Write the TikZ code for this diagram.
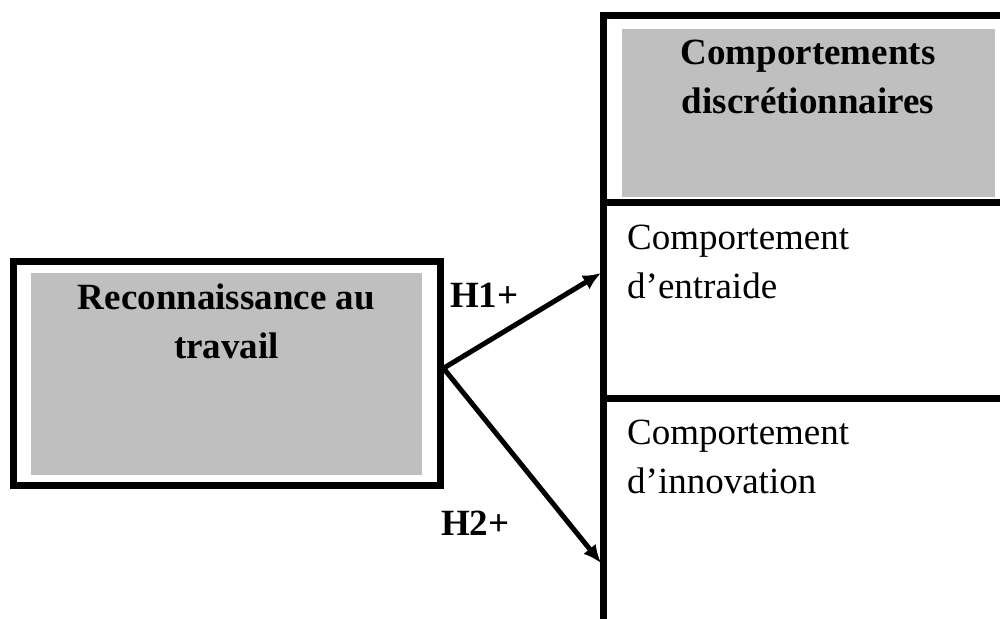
\documentclass[tikz,border=0pt]{standalone}
\usepackage{fontspec}
\setmainfont{Liberation Serif}
\usetikzlibrary{arrows.meta,positioning}
\definecolor{boxgrey}{RGB}{191,191,191}

\begin{document}
\begin{tikzpicture}[x=1pt,y=-1pt]

      \tikzstyle{frame}=[rectangle,draw=black,line width=7pt,
        inner sep=0pt]
      \tikzstyle{greybox}=[rectangle,fill=boxgrey,inner sep=0pt]
      \tikzstyle{title}=[font=\fontsize{37}{49}\selectfont\bfseries,
        align=center,inner sep=0pt]
      \tikzstyle{item}=[font=\fontsize{37}{49}\selectfont,
        align=left,inner sep=0pt,anchor=base west]
      \tikzstyle{link}=[line width=5pt,-{Latex[length=18pt,width=16pt]}]

      \useasboundingbox (0,0) rectangle (1000,618);
      \clip (0,0) rectangle (1000,618);

      % left box
      \node(Recon)[frame,minimum width=426.5pt,
        minimum height=223.5pt] at (226.75,373.25){};
      \node(ReconFill)[greybox,minimum width=391pt,
        minimum height=202pt] at (226.5,374){};
      \node(ReconText)[title,anchor=base] at (226.5,358)
        {Reconnaissance au\\travail};

      % right column
      \node(Disc)[frame,minimum width=406.5pt,
        minimum height=186.5pt] at (806.75,109.25){};
      \node(DiscFill)[greybox,minimum width=373pt,
        minimum height=168pt] at (808.5,113){};
      \node(DiscText)[title,anchor=base] at (808,113)
        {Comportements\\discrétionnaires};

      \node(Entraide)[frame,minimum width=406.5pt,
        minimum height=195.5pt] at (806.75,300.25){};
      \node(EntraideText)[item] at (627,298)
        {Comportement\\d’entraide};

      \node(Innov)[frame,minimum width=406.5pt,
        minimum height=252pt] at (806.75,524){};
      \node(InnovText)[item] at (627,493)
        {Comportement\\d’innovation};

      % hypotheses
      \coordinate(TipH1) at (601,273);
      \coordinate(TipH2) at (601,563);

      \draw [link] ([yshift=5pt]Recon.east)--(TipH1);
      \draw [link] ([yshift=5pt]Recon.east)--(TipH2);

      \node(H1)[title,anchor=base west] at (450,307){H1+};
      \node(H2)[title,anchor=base west] at (441,535){H2+};

    \end{tikzpicture}
\end{document}
